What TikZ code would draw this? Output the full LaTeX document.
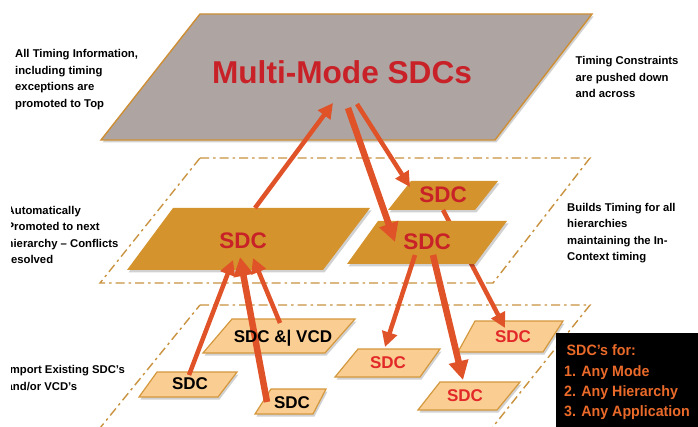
\documentclass[tikz,border=0pt]{standalone}
\usepackage{fontspec}
\setmainfont{Liberation Sans}
\newfontfamily\boxfont{Liberation Sans}[FakeStretch=0.95]
\usetikzlibrary{arrows.meta}
\definecolor{topfill}{RGB}{174,164,161}
\definecolor{topdraw}{RGB}{206,142,52}
\definecolor{midfill}{RGB}{212,147,44}
\definecolor{lowfill}{RGB}{250,206,146}
\definecolor{lowdraw}{RGB}{212,152,62}
\definecolor{framec}{RGB}{200,146,62}
\definecolor{sdcred}{RGB}{200,34,40}
\definecolor{lowred}{RGB}{226,40,40}
\definecolor{arrc}{RGB}{224,82,40}
\definecolor{boxtext}{RGB}{234,106,42}
\begin{document}
\begin{tikzpicture}[x=1pt,y=-1pt,
  lbl/.style={font=\fontsize{11.3}{16.5}\selectfont\bfseries, align=left, anchor=west, inner sep=0pt},
  frame/.style={draw=framec, line width=1.4pt, dash pattern=on 9pt off 4pt on 2.5pt off 4pt},
  shd/.style={preaction={fill=black, fill opacity=0.18, transform canvas={xshift=1.5pt,yshift=-2.5pt}}},
  topbox/.style={fill=topfill, draw=topdraw, line width=1.4pt, shd},
  midbox/.style={fill=midfill, shd},
  lowbox/.style={fill=lowfill, draw=lowdraw, line width=1.2pt, shd},
  midtxt/.style={font=\fontsize{22.5}{27}\selectfont\bfseries, text=sdcred, inner sep=0pt},
  lowtxt/.style={font=\fontsize{17}{20}\selectfont\bfseries, inner sep=0pt},
  arr/.style={draw=arrc, line width=4.5pt, -{Triangle[length=15pt,width=15pt]}},
  tarr/.style={draw=arrc, line width=6.5pt, -{Triangle[length=19pt,width=19pt]}}
]
\clip (0,0) rectangle (698,427);
\fill[white] (0,0) rectangle (698,427);

% dashed layers
\draw[frame] (200,158) -- (590,158) -- (493,283) -- (100,283) -- cycle;
\draw[frame] (200,305) -- (590,305) -- (492,428) -- (100,428) -- cycle;

% top layer
\path[topbox] (200,14) -- (592,14) -- (495,140) -- (101,140) -- cycle;

% bottom layer shapes
\path[lowbox] (232,319) -- (355,319) -- (325,353) -- (203,353) -- cycle;
\path[lowbox] (157,372) -- (237,372) -- (218,397) -- (139,397) -- cycle;
\path[lowbox] (271,389) -- (326,389) -- (313,414) -- (255,414) -- cycle;
\path[lowbox] (358,349) -- (440,349) -- (420,377) -- (335,377) -- cycle;
\path[lowbox] (475,321) -- (563,321) -- (543,352) -- (458,352) -- cycle;
\path[lowbox] (440,382) -- (520,382) -- (497,410) -- (418,410) -- cycle;

% arrow end points
\coordinate (a1s) at (255,208); \coordinate (a1e) at (333,103);
\coordinate (a2s) at (348,108); \coordinate (a2e) at (395,242);
\coordinate (a3s) at (357,104); \coordinate (a3e) at (410,187);
\coordinate (a4s) at (443,210); \coordinate (a4e) at (505,328);
\coordinate (a5s) at (415,255); \coordinate (a5e) at (385,347);
\coordinate (a6s) at (433,255); \coordinate (a6e) at (463,380);
\coordinate (a7s) at (189,375); \coordinate (a7e) at (233,260);
\coordinate (a8s) at (267,402); \coordinate (a8e) at (240,257);
\coordinate (a9s) at (280,323); \coordinate (a9e) at (253,258);

% middle layer
\path[midbox] (411,181) -- (498,181) -- (475,210) -- (388,210) -- cycle;
\draw[arr] (a4s) -- (a4e);
\path[midbox] (378,221) -- (507,221) -- (475,264) -- (347,264) -- cycle;
\path[midbox] (173,208) -- (370,208) -- (323,270) -- (127,270) -- cycle;

% arrows
\draw[arr] (a1s) -- (a1e);
\draw[tarr] (a2s) -- (a2e);
\draw[arr] (a3s) -- (a3e);
\draw[arr] (a5s) -- (a5e);
\draw[tarr] (a6s) -- (a6e);
\draw[arr] (a7s) -- (a7e);
\draw[tarr] (a8s) -- (a8e);
\draw[arr] (a9s) -- (a9e);

% labels in shapes
\node[font=\fontsize{31.6}{36}\selectfont\bfseries, text=sdcred, inner sep=0pt] (top) at (342,72) {Multi-Mode SDCs};
\node[midtxt] (sdcL) at (243,241) {SDC};
\node[midtxt] (sdcS) at (443,195) {SDC};
\node[midtxt] (sdcR) at (427,242) {SDC};
\node[lowtxt] (vcd) at (283,338) {SDC \&| VCD};
\node[lowtxt] (bl) at (190,384) {SDC};
\node[lowtxt] (bm) at (292,403) {SDC};
\node[lowtxt, text=lowred] (r1) at (388,363) {SDC};
\node[lowtxt, text=lowred] (r2) at (513,337) {SDC};
\node[lowtxt, text=lowred] (r3) at (465,396) {SDC};

% side texts
\node[lbl] (tl) at (15,79.5) {All Timing Information,\\including timing\\exceptions are\\promoted to Top};
\node[lbl] (tr) at (575.5,77) {Timing Constraints\\are pushed down\\and across};
\node[lbl] (mr) at (567,233) {Builds Timing for all\\hierarchies\\maintaining the In-\\Context timing};
\begin{scope}
\clip (11.5,0) rectangle (200,427);
\node[lbl] (ml) at (6.5,235) {Automatically\\Promoted to next\\hierarchy – Conflicts\\resolved};
\node[lbl] (ll) at (6.5,378) {Import Existing SDC’s\\and/or VCD’s};
\end{scope}

% black box
\fill[black] (556,333) rectangle (698,427);
\node[font=\boxfont\bfseries\fontsize{15}{20.3}\selectfont, text=boxtext, align=left, anchor=west, inner sep=0pt] (boxtxt) at (564,382.5) {\hspace*{2.5pt}SDC’s for:\\1. Any Mode\\2. Any Hierarchy\\3. Any Application};
\end{tikzpicture}
\end{document}
